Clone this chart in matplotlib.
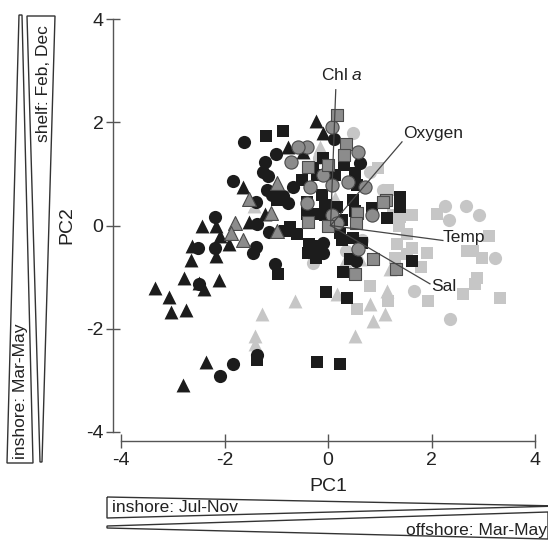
import matplotlib.pyplot as plt
from matplotlib.patches import Polygon
import numpy as np

plt.rcParams['font.family'] = ['Liberation Sans', 'DejaVu Sans']
plt.rcParams['mathtext.fontset'] = 'custom'
plt.rcParams['mathtext.rm'] = 'Liberation Sans'
plt.rcParams['mathtext.it'] = 'Liberation Sans:italic'

# PCA scores, one list per colour / marker group
black_tri = [(-3.34, -1.21), (-3.07, -1.39), (-3.03, -1.68), (-2.74, -1.64), (-2.78, -1.01),
             (-2.65, -0.66), (-2.49, -1.11), (-2.40, -1.23), (-2.11, -1.05), (-2.16, -0.60),
             (-2.36, -2.65), (-2.80, -3.08), (-2.43, 0.00), (-2.16, 0.00), (-2.09, -0.21),
             (-2.63, -0.39), (-1.91, -0.35), (-1.53, 0.06), (-1.64, 0.74), (-1.22, 0.23),
             (-0.77, 1.52), (-0.48, 1.42), (-0.23, 2.03), (-0.10, 1.80)]
black_circ = [(-1.62, 1.62), (-1.00, 1.39), (-1.22, 1.23), (-1.26, 1.03), (-1.16, 0.96),
              (-1.84, 0.86), (-1.18, 0.68), (-1.08, 0.59), (-0.87, 0.57), (-1.39, 0.45),
              (-0.77, 0.43), (-0.68, 0.74), (-2.18, 0.16), (-1.37, 0.02), (-1.14, -0.12),
              (-1.45, -0.53), (-1.39, -0.41), (-2.51, -0.43), (-2.18, -0.43), (-1.02, -0.74),
              (-2.49, -1.13), (-1.84, -2.69), (-2.09, -2.91), (-1.37, -2.50), (0.12, 1.68),
              (0.62, 1.21), (-0.10, -0.33), (-0.10, -0.53), (0.54, -0.68)]
black_sq = [(-1.20, 1.74), (-0.87, 1.83), (-0.99, 0.49), (-0.50, 0.88), (-0.41, 0.45),
            (-0.83, -0.10), (-0.73, -0.02), (-0.60, -0.16), (-0.97, -0.94), (-0.37, -0.35),
            (-0.25, -0.39), (-0.23, -0.62), (0.29, -0.90), (-0.04, -1.29), (0.37, -1.40),
            (-1.37, -2.60), (-0.21, -2.65), (0.23, -2.69), (-0.29, 1.11), (0.31, 1.17),
            (0.52, 1.01), (0.14, 0.98), (0.56, 0.78), (-1.02, 0.59), (-0.12, 0.59),
            (-0.06, 0.39), (0.48, 0.49), (0.52, 0.29), (0.85, 0.33), (-0.41, 0.23),
            (-0.06, 0.20), (0.27, 0.10), (0.23, -0.14), (0.48, -0.25), (0.27, -0.29),
            (-0.39, -0.53), (-0.19, -0.45), (0.43, -0.64), (0.66, -0.33), (1.39, 0.55),
            (1.39, 0.35), (1.14, 0.14), (1.62, -0.68), (-0.21, 0.98), (-0.10, 1.31),
            (-0.21, 0.23), (0.17, 0.35)]
gray_circ = [(-0.71, 1.23), (-0.41, 1.52), (-0.58, 1.52), (-0.35, 0.74), (-0.41, 0.43),
             (-0.10, 0.98), (0.08, 1.91), (0.58, 1.42), (0.08, 0.78), (0.39, 0.84),
             (0.71, 0.74), (0.08, 0.20), (0.17, 0.04), (0.85, 0.20), (0.58, -0.45)]
gray_sq = [(0.17, 2.15), (0.35, 1.58), (0.31, 1.37), (-0.39, 1.13), (0.00, 1.17),
           (1.12, 0.49), (0.56, 0.25), (1.06, 0.45), (-0.39, 0.06), (0.00, 0.00),
           (0.54, 0.04), (0.87, -0.64), (0.52, -0.94), (1.31, -0.84)]
gray_tri = [(-0.99, 0.82), (-1.53, 0.51), (-1.10, 0.25), (-1.80, 0.04), (-1.87, -0.14),
            (-1.64, -0.29), (-0.99, -0.10)]
light_circ = [(0.48, 1.80), (-0.17, 1.31), (0.81, 1.03), (2.26, 0.37), (2.67, 0.37),
              (2.34, 0.10), (2.92, 0.20), (3.23, -0.62), (2.36, -1.81), (1.66, -1.27),
              (0.35, -0.49), (-0.29, -0.72), (0.66, -0.29), (0.48, -0.62), (1.06, 0.68)]
light_sq = [(0.97, 1.11), (1.16, 0.68), (1.26, 0.20), (1.39, 0.16), (1.62, 0.20),
            (2.11, 0.23), (1.37, 0.00), (1.53, -0.16), (3.11, -0.21), (1.33, -0.35),
            (1.62, -0.43), (1.53, -0.55), (1.91, -0.53), (2.69, -0.49), (2.80, -0.49),
            (2.98, -0.62), (1.80, -0.80), (1.29, -0.62), (2.88, -1.01), (2.84, -1.13),
            (2.61, -1.33), (3.32, -1.40), (1.93, -1.46), (0.81, -1.17), (1.16, -1.46),
            (0.56, -1.62)]
light_tri = [(-0.15, 1.52), (0.14, 0.53), (-1.43, 0.37), (0.33, -0.68), (0.62, -0.64),
             (1.20, -0.84), (0.17, -1.33), (1.14, -1.27), (0.81, -1.52), (1.10, -1.72),
             (0.87, -1.85), (0.52, -2.15), (-0.64, -1.46), (-1.28, -1.72), (-1.41, -2.15),
             (-1.41, -2.30)]

# environmental loadings (arrow tips)
vec_names = ['Chl $\\mathit{a}$', 'Oxygen', 'Temp', 'Sal']
vec_x = [0.15, 1.43, 2.22, 1.97]
vec_y = [2.63, 1.62, -0.29, -1.13]
vec_origin = (0.05, 0.0)

ticks = [-4, -2, 0, 2, 4]

W, H = 548, 541
fig = plt.figure(figsize=(W / 100, H / 100), dpi=100)
ax = fig.add_axes([121 / W, 1 - 432 / H, 414 / W, 413 / H])

BLACK = '#1c1c1c'
GRAY = '#8c8c8c'
LIGHT = '#c6c6c6'
sizes = {'o': 90, 's': 78, '^': 100}

groups = [
    (light_circ, 'o', LIGHT), (light_sq, 's', LIGHT), (light_tri, '^', LIGHT),
    (black_circ, 'o', BLACK), (black_sq, 's', BLACK), (black_tri, '^', BLACK),
    (gray_circ, 'o', GRAY), (gray_sq, 's', GRAY), (gray_tri, '^', GRAY),
]
for pts, mk, col in groups:
    xy = np.array(pts)
    if col == GRAY:
        ax.scatter(xy[:, 0], xy[:, 1], s=sizes[mk], marker=mk, c=col,
                   edgecolors='#4a4a4a', linewidths=0.8, zorder=4, clip_on=False)
    else:
        ax.scatter(xy[:, 0], xy[:, 1], s=sizes[mk], marker=mk, c=col,
                   linewidths=0, zorder=3, clip_on=False)

# loading lines + labels
for vx, vy in zip(vec_x, vec_y):
    ax.plot([vec_origin[0], vx], [vec_origin[1], vy], color='#444444', lw=0.9, zorder=5)
ax.text(0.27, 2.91, vec_names[0], ha='center', va='center', fontsize=12.5, color='#222222')
ax.text(1.45, 1.79, vec_names[1], ha='left', va='center', fontsize=12.5, color='#222222')
ax.text(2.22, -0.23, vec_names[2], ha='left', va='center', fontsize=12.5, color='#222222')
ax.text(1.99, -1.18, vec_names[3], ha='left', va='center', fontsize=12.5, color='#222222')

ax.set_xlim(-4, 4)
ax.set_ylim(-4, 4)
ax.set_xticks(ticks)
ax.set_yticks(ticks)
ax.set_xticklabels([str(t) for t in ticks])
ax.set_yticklabels([str(t) for t in ticks])
for side in ['top', 'right']:
    ax.spines[side].set_visible(False)
ax.spines['left'].set_position(('outward', 5.8))
ax.spines['bottom'].set_position(('outward', 6.5))
for side in ['left', 'bottom']:
    ax.spines[side].set_color('#555555')
    ax.spines[side].set_linewidth(1.0)
ax.tick_params(direction='inout', length=9.5, width=1.0, color='#555555',
               labelsize=14, labelcolor='#222222')
ax.tick_params(axis='y', pad=2)
ax.tick_params(axis='x', pad=3)
ax.set_xlabel('PC1', fontsize=14, color='#222222')
ax.set_ylabel('PC2', fontsize=14, color='#222222')
ax.xaxis.set_label_coords(0.5, -0.112)
ax.yaxis.set_label_coords(-0.109, 0.5)

# season wedges drawn in pixel space
ov = fig.add_axes([0, 0, 1, 1], facecolor='none')
ov.set_xlim(0, W)
ov.set_ylim(H, 0)
ov.axis('off')
wedges = [
    [(27, 16), (55, 16), (42, 462), (40, 462)],
    [(19, 15), (22, 15), (33, 463), (7, 463)],
    [(107, 497), (560, 506), (107, 518)],
    [(107, 526), (548, 512), (548, 539), (107, 528)],
]
for poly in wedges:
    ov.add_patch(Polygon(poly, closed=True, fill=False, edgecolor='#333333', lw=1.0))
ov.text(44, 84, 'shelf: Feb, Dec', rotation=90, ha='center', va='center', fontsize=12.5, color='#222222')
ov.text(21, 391, 'inshore: Mar-May', rotation=90, ha='center', va='center', fontsize=12.5, color='#222222')
ov.text(112, 508, 'inshore: Jul-Nov', ha='left', va='center', fontsize=12.5, color='#222222')
ov.text(406, 530, 'offshore: Mar-May', ha='left', va='center', fontsize=12.5, color='#222222')

plt.savefig('out.png', dpi=100)
